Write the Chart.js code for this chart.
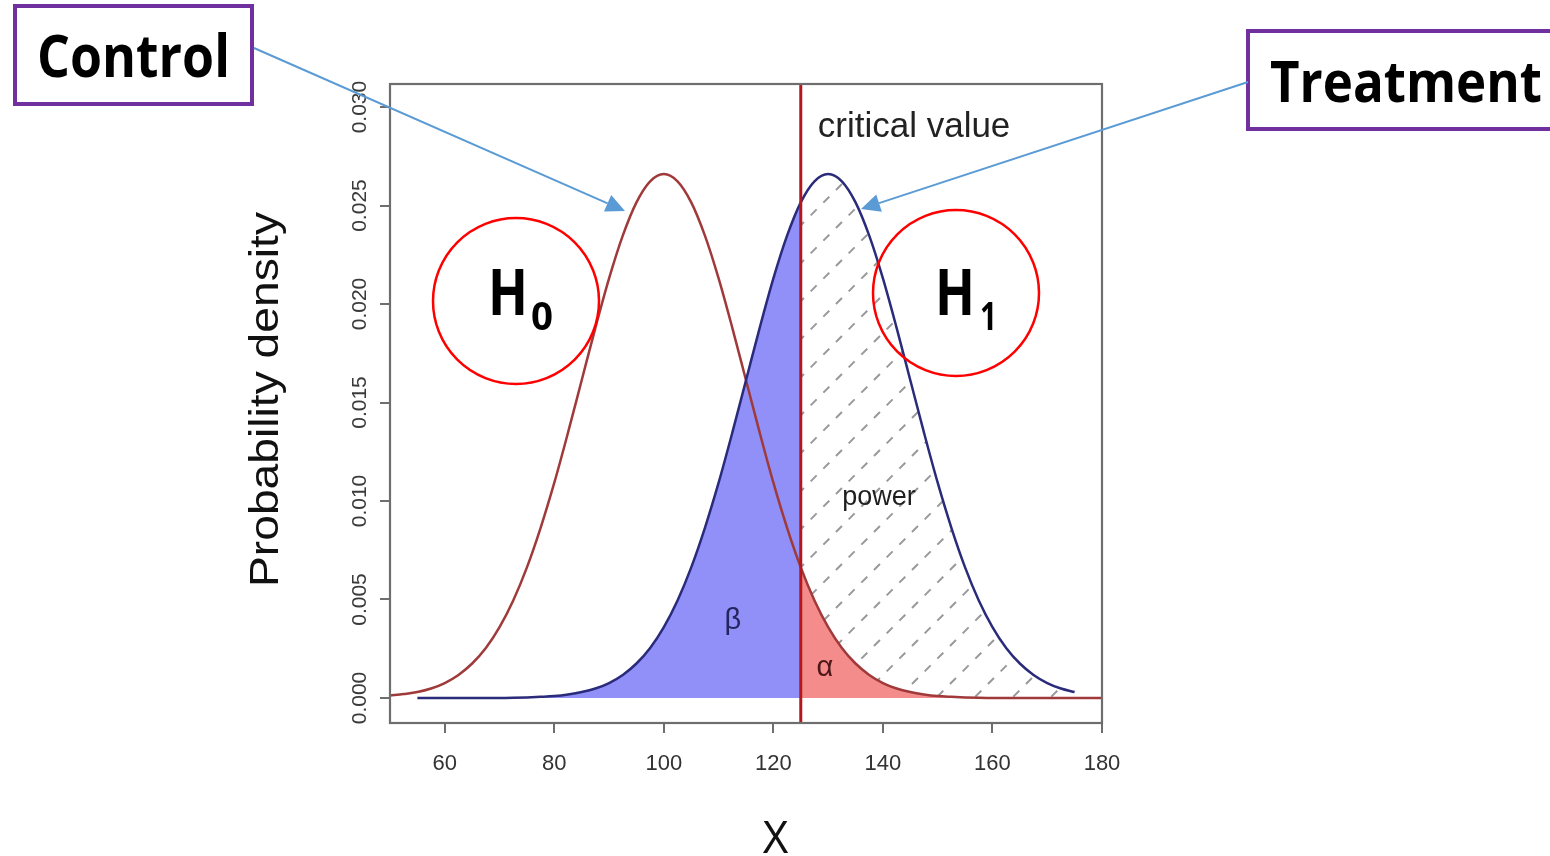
<!DOCTYPE html>
<html>
<head>
<meta charset="utf-8">
<script src="https://cdn.jsdelivr.net/npm/chart.js@4.4.1/dist/chart.umd.min.js"></script>
<style>
html, body { margin: 0; padding: 0; background: #fff; }
#wrap { position: relative; width: 1550px; height: 856px; overflow: hidden; }
canvas { display: block; }
</style>
</head>
<body>
<div id="wrap"><canvas id="chart" width="1550" height="856"></canvas></div>
<script>
// values
const xValues = [50, 52.5, 55, 57.5, 60, 62.5, 65, 67.5, 70, 72.5, 75, 77.5, 80, 82.5, 85, 87.5, 90, 92.5, 95, 97.5,
    100, 102.5, 105, 107.5, 110, 112.5, 115, 117.5, 120, 122.5, 125, 127.5, 130, 132.5, 135, 137.5, 140, 142.5, 145, 147.5,
    150, 152.5, 155, 157.5, 160, 162.5, 165, 167.5, 170, 172.5, 175, 177.5, 180]

const controlDensity = [0.00012, 0.00020, 0.00030, 0.00048, 0.00076, 0.00117, 0.00175, 0.00254, 0.00360, 0.00495,
    0.00663, 0.00864, 0.01093, 0.01347, 0.01613, 0.01879, 0.02130, 0.02347, 0.02516, 0.02623,
    0.02660, 0.02623, 0.02516, 0.02347, 0.02130, 0.01879, 0.01613, 0.01347, 0.01093, 0.00864,
    0.00663, 0.00495, 0.00360, 0.00254, 0.00175, 0.00117, 0.00076, 0.00048, 0.00030, 0.00018,
    0.00010, 0.00006, 0.00003, 0.00001, 0, 0, 0, 0, 0, 0, 0, 0, 0]

const treatmentDensity = [null, null, 0, 0, 0, 0, 0, 0, 0, 0.00001,
    0.00003, 0.00006, 0.00010, 0.00018, 0.00030, 0.00048, 0.00076, 0.00117, 0.00175, 0.00254,
    0.00360, 0.00495, 0.00663, 0.00864, 0.01093, 0.01347, 0.01613, 0.01879, 0.02130, 0.02347,
    0.02516, 0.02623, 0.02660, 0.02623, 0.02516, 0.02347, 0.02130, 0.01879, 0.01613, 0.01347,
    0.01093, 0.00864, 0.00663, 0.00495, 0.00360, 0.00254, 0.00175, 0.00117, 0.00076, 0.00048,
    0.00030, null, null]

const criticalValue = 125
const xTicks = [60, 80, 100, 120, 140, 160, 180]
const yTicks = [0, 0.005, 0.010, 0.015, 0.020, 0.025, 0.030]
const yTickLabels = ['0.000', '0.005', '0.010', '0.015', '0.020', '0.025', '0.030']
const xMin = 50, xMax = 180
const yMin = -0.00127, yMax = 0.03117

function points(ys, keep) {
    return xValues.map((x, i) => ({ x: x, y: ys[i] })).filter(p => p.y !== null && keep(p.x))
}

function makeHatch() {
    const s = 38
    const c = document.createElement('canvas')
    c.width = s
    c.height = s
    const g = c.getContext('2d')
    const period = s * Math.SQRT2 / 3
    g.strokeStyle = '#999999'
    g.lineWidth = 2
    g.setLineDash([period * 0.47, period * 0.53])
    for (let k = -1; k <= 1; k++) {
        g.beginPath()
        g.moveTo(-s, 2 * s + k * s)
        g.lineTo(2 * s, -s + k * s)
        g.stroke()
    }
    return g.createPattern(c, 'repeat')
}

// squeeze text to a width so it looks like the original lettering
function fitText(ctx, text, x, y, font, width, color) {
    ctx.save()
    ctx.font = font
    ctx.fillStyle = color || '#000'
    ctx.textAlign = 'left'
    ctx.textBaseline = 'alphabetic'
    const w = ctx.measureText(text).width
    ctx.translate(x, y)
    ctx.scale(width / w, 1)
    ctx.fillText(text, 0, 0)
    ctx.restore()
}

function arrow(ctx, x1, y1, x2, y2) {
    const a = Math.atan2(y2 - y1, x2 - x1)
    const len = 19, half = 9
    const bx = x2 - len * Math.cos(a), by = y2 - len * Math.sin(a)
    ctx.save()
    ctx.strokeStyle = '#5b9bd5'
    ctx.fillStyle = '#5b9bd5'
    ctx.lineWidth = 2
    ctx.beginPath()
    ctx.moveTo(x1, y1)
    ctx.lineTo(bx, by)
    ctx.stroke()
    ctx.beginPath()
    ctx.moveTo(x2, y2)
    ctx.lineTo(bx + half * Math.sin(a), by - half * Math.cos(a))
    ctx.lineTo(bx - half * Math.sin(a), by + half * Math.cos(a))
    ctx.closePath()
    ctx.fill()
    ctx.restore()
}

const decorations = {
    id: 'decorations',
    afterDatasetsDraw(chart) {
        const ctx = chart.ctx
        const x = chart.scales.x, y = chart.scales.y
        ctx.save()
        ctx.textAlign = 'center'
        ctx.textBaseline = 'alphabetic'
        ctx.fillStyle = '#1e1e1e'
        ctx.font = '27px "Liberation Sans"'
        ctx.fillText('power', x.getPixelForValue(139.3), y.getPixelForValue(0.0098))
        ctx.fillStyle = '#24245e'
        ctx.font = '29px "Liberation Sans"'
        ctx.fillText('β', x.getPixelForValue(112.6), y.getPixelForValue(0.0035))
        ctx.fillStyle = '#4e1818'
        ctx.fillText('α', x.getPixelForValue(129.4), y.getPixelForValue(0.0011))
        ctx.fillStyle = '#222'
        ctx.textAlign = 'left'
        ctx.font = '35px "Liberation Sans"'
        ctx.fillText('critical value', x.getPixelForValue(criticalValue) + 17, 137)
        ctx.restore()
    },
    afterDraw(chart) {
        const ctx = chart.ctx
        const a = chart.chartArea
        const y = chart.scales.y
        ctx.save()
        // box around the plot
        ctx.strokeStyle = '#6e6e6e'
        ctx.lineWidth = 2.2
        ctx.strokeRect(a.left, a.top, a.right - a.left, a.bottom - a.top)

        // y tick labels, written along the axis
        ctx.fillStyle = '#3a3a3a'
        ctx.font = '21px "Liberation Sans"'
        ctx.textAlign = 'center'
        ctx.textBaseline = 'alphabetic'
        yTicks.forEach((v, i) => {
            ctx.save()
            ctx.translate(366, y.getPixelForValue(v))
            ctx.rotate(-Math.PI / 2)
            ctx.fillText(yTickLabels[i], 0, 0)
            ctx.restore()
        })

        // axis titles
        ctx.save()
        ctx.translate(278, 587)
        ctx.rotate(-Math.PI / 2)
        fitText(ctx, 'Probability density', 0, 0, '40px "Liberation Sans"', 375, '#111')
        ctx.restore()
        fitText(ctx, 'X', 762, 853, '47px "Liberation Sans"', 27, '#111')

        // hypothesis circles
        ctx.strokeStyle = '#ff0000'
        ctx.lineWidth = 2.5
        ctx.beginPath()
        ctx.arc(516, 301, 83, 0, Math.PI * 2)
        ctx.stroke()
        ctx.beginPath()
        ctx.arc(956, 293, 83, 0, Math.PI * 2)
        ctx.stroke()
        fitText(ctx, 'H', 488, 315, 'bold 64px "Open Sans"', 40)
        fitText(ctx, '0', 531, 330, 'bold 40px "Open Sans"', 22)
        fitText(ctx, 'H', 935, 315, 'bold 64px "Open Sans"', 40)
        fitText(ctx, '1', 980, 330, 'bold 40px "Open Sans"', 17)

        // labelled boxes
        ctx.fillStyle = '#fff'
        ctx.fillRect(15, 6, 237, 98)
        ctx.fillRect(1248, 31, 310, 98)
        ctx.strokeStyle = '#7030a0'
        ctx.lineWidth = 4
        ctx.strokeRect(15, 6, 237, 98)
        ctx.strokeRect(1248, 31, 320, 98)
        fitText(ctx, 'Control', 37, 77, 'bold 59px "Open Sans"', 193)
        fitText(ctx, 'Treatment', 1270, 102, 'bold 57px "Open Sans"', 272)

        arrow(ctx, 254, 48, 625, 211)
        arrow(ctx, 1248, 82, 861, 209)
        ctx.restore()
    }
}

const axisGrid = { drawOnChartArea: false, drawTicks: true, tickLength: 10, color: '#6e6e6e', lineWidth: 2 }

new Chart(document.getElementById('chart'), {
    type: 'line',
    data: {
        datasets: [
            { label: 'power', data: points(treatmentDensity, v => v >= criticalValue), fill: 'origin', backgroundColor: makeHatch(), borderWidth: 0, order: 6 },
            { label: 'alpha', data: points(controlDensity, v => v >= criticalValue), fill: 'origin', backgroundColor: '#f58c8c', borderWidth: 0, order: 5 },
            { label: 'beta', data: points(treatmentDensity, v => v <= criticalValue), fill: 'origin', backgroundColor: '#9090f8', borderWidth: 0, order: 4 },
            { label: 'Control', data: points(controlDensity, () => true), fill: false, borderColor: '#a03a3a', borderWidth: 2.5, order: 3 },
            { label: 'Treatment', data: points(treatmentDensity, () => true), fill: false, borderColor: '#2b2b7c', borderWidth: 2.5, order: 2 },
            { label: 'critical value', data: [{ x: criticalValue, y: yMin }, { x: criticalValue, y: yMax }], fill: false, borderColor: '#b4181d', borderWidth: 3, order: 1 }
        ]
    },
    options: {
        responsive: false,
        animation: false,
        devicePixelRatio: 1,
        layout: { padding: { left: 350, top: 84, right: 448, bottom: 73 } },
        elements: {
            point: { radius: 0 },
            line: { cubicInterpolationMode: 'monotone' }
        },
        plugins: { legend: { display: false }, tooltip: { enabled: false } },
        scales: {
            x: {
                type: 'linear', min: xMin, max: xMax,
                afterBuildTicks: s => { s.ticks = xTicks.map(v => ({ value: v })) },
                afterFit: s => { s.height = 60 },
                grid: axisGrid,
                border: { display: false },
                ticks: { font: { family: '"Liberation Sans"', size: 22 }, color: '#333', padding: 18, maxRotation: 0, autoSkip: false }
            },
            y: {
                type: 'linear', min: yMin, max: yMax,
                afterBuildTicks: s => { s.ticks = yTicks.map(v => ({ value: v })) },
                afterFit: s => { s.width = 40 },
                grid: axisGrid,
                border: { display: false },
                ticks: { display: false }
            }
        }
    },
    plugins: [decorations]
})
</script>
</body>
</html>
